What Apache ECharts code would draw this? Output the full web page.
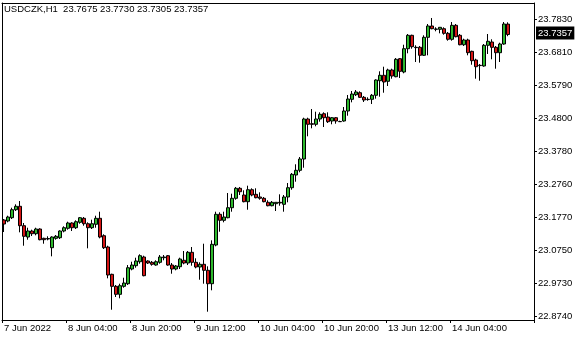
<!DOCTYPE html>
<html><head><meta charset="utf-8">
<script src="https://cdn.jsdelivr.net/npm/echarts@6/dist/echarts.min.js"></script>
<style>html,body{margin:0;padding:0;background:#fff}#c{width:580px;height:340px}</style>
</head><body><div id="c"></div>
<script>
const symbolName = "USDCZK,H1";
const xTickLabels = ["7 Jun 2022","8 Jun 04:00","8 Jun 20:00","9 Jun 12:00","10 Jun 04:00","10 Jun 20:00","13 Jun 12:00","14 Jun 04:00"];
const yTickValues = [22.874,22.973,23.075,23.177,23.276,23.378,23.480,23.579,23.681,23.783];
const opens = [23.1679,23.1648,23.1749,23.1994,23.2098,23.1504,23.1158,23.1342,23.1259,23.1403,
23.1118,23.1097,23.0831,23.1118,23.1137,23.1342,23.1425,23.1587,23.1443,23.1608,
23.1731,23.1565,23.1443,23.1547,23.1731,23.1198,23.0852,23.0016,22.9649,22.9404,
22.9649,22.9729,23.0179,23.0280,23.0402,23.0546,23.0424,23.0384,23.0301,23.0384,
23.0525,23.0586,23.0301,23.0179,23.0249,23.0445,23.0362,23.0690,23.0384,23.0240,
23.0323,23.0139,22.9729,23.0913,23.1853,23.1669,23.1749,23.2055,23.2343,23.2649,
23.2444,23.2239,23.2606,23.2465,23.2383,23.2343,23.2220,23.2116,23.2178,23.2220,
23.2159,23.2383,23.2667,23.3056,23.3200,23.3546,23.4770,23.4626,23.4608,23.4770,
23.4932,23.4831,23.4709,23.4810,23.4688,23.4709,23.5015,23.5373,23.5514,23.5575,
23.5434,23.5373,23.5373,23.5496,23.5943,23.6108,23.5924,23.6270,23.6065,23.6616,
23.6209,23.6922,23.7332,23.6965,23.6965,23.6720,23.7271,23.7617,23.7516,23.7516,
23.7534,23.7393,23.7210,23.7638,23.7332,23.7044,23.7188,23.6842,23.6576,23.6414,
23.6393,23.7026,23.7127,23.6965,23.6800,23.7066,23.7675];
const highs = [23.1709,23.1810,23.2055,23.2159,23.2260,23.1587,23.1443,23.1382,23.1443,23.1425,
23.1137,23.1180,23.1180,23.1219,23.1363,23.1486,23.1627,23.1608,23.1669,23.1770,
23.1770,23.1608,23.1688,23.1810,23.1933,23.1241,23.0892,23.0035,22.9689,22.9729,
22.9912,23.0301,23.0402,23.0525,23.0629,23.0586,23.0445,23.0424,23.0445,23.0607,
23.0607,23.0607,23.0362,23.0301,23.0525,23.0730,23.0730,23.0852,23.0506,23.0384,
23.0953,23.0261,23.1057,23.1933,23.1914,23.1933,23.2505,23.2484,23.2689,23.2689,
23.2588,23.2729,23.2649,23.2649,23.2526,23.2383,23.2282,23.2260,23.2220,23.2465,
23.2444,23.2811,23.3117,23.3384,23.3607,23.4810,23.4810,23.5076,23.4994,23.4975,
23.4975,23.4975,23.4831,23.4831,23.4718,23.5137,23.5505,23.5627,23.5658,23.5618,
23.5474,23.5434,23.5535,23.5985,23.6230,23.6371,23.6310,23.6310,23.6637,23.6637,
23.7044,23.7372,23.7351,23.7026,23.7005,23.7332,23.7678,23.7862,23.7577,23.7580,
23.7577,23.7433,23.7739,23.7678,23.7372,23.7228,23.7228,23.6861,23.6616,23.6454,
23.7066,23.7372,23.7210,23.7005,23.7106,23.7739,23.7730];
const lows = [23.1311,23.1608,23.1709,23.1954,23.1302,23.0892,23.1076,23.1189,23.1210,23.1057,
23.0953,23.1057,23.0567,23.1076,23.1097,23.1302,23.1382,23.1342,23.1403,23.1565,
23.1504,23.0812,23.1403,23.1443,23.1118,23.0791,22.9894,22.8933,22.9322,22.9282,
22.9606,22.9689,23.0139,23.0218,23.0341,22.9955,23.0332,23.0280,23.0280,23.0341,
23.0445,23.0280,23.0035,23.0139,23.0179,23.0323,23.0301,23.0280,23.0200,22.9851,
22.9729,22.8872,22.9527,23.0874,23.1320,23.1608,23.1731,23.1933,23.2300,23.2444,
23.2220,23.1994,23.2404,23.2343,23.2300,23.2220,23.2098,23.2098,23.1954,23.2116,
23.1933,23.2220,23.2606,23.2851,23.3139,23.3279,23.4241,23.4485,23.4547,23.4688,
23.4525,23.4648,23.4608,23.4626,23.4679,23.4688,23.4871,23.5281,23.5474,23.5413,
23.5291,23.5330,23.5229,23.5392,23.5453,23.5575,23.5780,23.6004,23.6047,23.6025,
23.6169,23.6781,23.6922,23.6515,23.6494,23.6699,23.6720,23.7516,23.7455,23.7393,
23.7351,23.7167,23.7167,23.7271,23.7026,23.7005,23.6720,23.6432,23.6004,23.5943,
23.6371,23.6760,23.6598,23.6310,23.6515,23.7044,23.7305];
const closes = [23.1556,23.1770,23.1994,23.2098,23.1504,23.1180,23.1342,23.1259,23.1403,23.1076,
23.1076,23.1112,23.1158,23.1180,23.1342,23.1443,23.1587,23.1443,23.1627,23.1749,
23.1565,23.1443,23.1565,23.1731,23.1158,23.0831,22.9995,22.9649,22.9404,22.9667,
22.9750,23.0218,23.0301,23.0424,23.0586,22.9974,23.0362,23.0323,23.0402,23.0546,
23.0546,23.0301,23.0179,23.0271,23.0485,23.0362,23.0690,23.0384,23.0240,23.0323,
23.0139,22.9729,23.0935,23.1853,23.1669,23.1770,23.2055,23.2343,23.2649,23.2545,
23.2239,23.2606,23.2444,23.2361,23.2343,23.2239,23.2116,23.2220,23.2220,23.2200,
23.2383,23.2667,23.3077,23.3200,23.3546,23.4770,23.4608,23.4608,23.4770,23.4914,
23.4810,23.4688,23.4810,23.4709,23.4695,23.5015,23.5382,23.5535,23.5597,23.5434,
23.5352,23.5365,23.5496,23.5964,23.6108,23.5903,23.6270,23.6086,23.6598,23.6230,
23.6922,23.7332,23.6983,23.6955,23.6720,23.7271,23.7617,23.7534,23.7525,23.7577,
23.7393,23.7210,23.7638,23.7289,23.7044,23.7188,23.6800,23.6555,23.6371,23.6405,
23.7026,23.7149,23.6965,23.6800,23.7066,23.7678,23.7357];

const BARS_PER_LABEL = 16;
const TOTAL_SLOTS = 133;
const categories = [];
for (let i = 0; i < TOTAL_SLOTS; i++) categories.push(String(i));
const candles = opens.map((o, i) => [o, closes[i], lows[i], highs[i]]);
const last = opens.length - 1;
const titleText = symbolName + "  " + [opens[last], highs[last], lows[last], closes[last]].map(v => v.toFixed(4)).join(" ");

const FONT = "Liberation Sans";
const FS = 9.5;
const yMin = 22.8618, yMax = 23.8321;
const showTick = (idx) => idx % BARS_PER_LABEL === 0 && idx / BARS_PER_LABEL < xTickLabels.length;

const chart = echarts.init(document.getElementById('c'), null, {renderer: 'canvas'});
chart.setOption({
  animation: false,
  backgroundColor: '#ffffff',
  title: {text: titleText, left: 4, top: 4, padding: 0,
    textStyle: {fontFamily: FONT, fontSize: FS, fontWeight: 'normal', color: '#000'}},
  grid: {left: 2, right: 46, top: 3, bottom: 20, show: false},
  xAxis: [{
    type: 'category', data: categories, boundaryGap: true, position: 'bottom',
    axisLine: {show: true, onZero: false, lineStyle: {color: '#000', width: 1}},
    axisTick: {show: true, inside: false, length: 3, interval: showTick, lineStyle: {color: '#000'}},
    axisLabel: {show: true, interval: showTick, align: 'left', margin: 3,
      fontFamily: FONT, fontSize: FS, color: '#000',
      formatter: (v, idx) => xTickLabels[Number(v) / BARS_PER_LABEL] || ''},
    splitLine: {show: false}
  }, {
    type: 'category', data: categories, boundaryGap: true, position: 'top',
    axisLine: {show: true, onZero: false, lineStyle: {color: '#000', width: 1}},
    axisTick: {show: false}, axisLabel: {show: false}, splitLine: {show: false}
  }],
  yAxis: [{
    type: 'value', position: 'right', min: yMin, max: yMax, scale: true,
    axisLine: {show: true, lineStyle: {color: '#000', width: 1}},
    axisTick: {show: true, inside: false, length: 3, customValues: yTickValues, lineStyle: {color: '#000'}},
    axisLabel: {show: true, customValues: yTickValues, margin: 4, fontFamily: FONT, fontSize: FS, color: '#000',
      formatter: v => v.toFixed(4)},
    splitLine: {show: false}
  }, {
    type: 'value', position: 'left', min: yMin, max: yMax, scale: true,
    axisLine: {show: true, onZero: false, lineStyle: {color: '#000', width: 1}},
    axisTick: {show: false}, axisLabel: {show: false}, splitLine: {show: false}
  }],
  series: [{
    type: 'candlestick', xAxisIndex: 0, yAxisIndex: 0,
    data: candles, barWidth: 3,
    itemStyle: {color: '#2DB82D', color0: '#D41414', borderColor: '#000', borderColor0: '#000', borderColorDoji: '#000', borderWidth: 1},
    markLine: {
      silent: true, symbol: 'none', animation: false,
      lineStyle: {color: 'rgba(0,0,0,0)', width: 1, type: 'solid'},
      label: {show: true, position: 'end', distance: 2, formatter: p => closes[last].toFixed(4),
        backgroundColor: '#000', color: '#fff', padding: [2, 2, 1, 2], fontFamily: FONT, fontSize: FS},
      emphasis: {disabled: true},
      data: [{yAxis: closes[last]}]
    }
  }]
});
</script></body></html>
